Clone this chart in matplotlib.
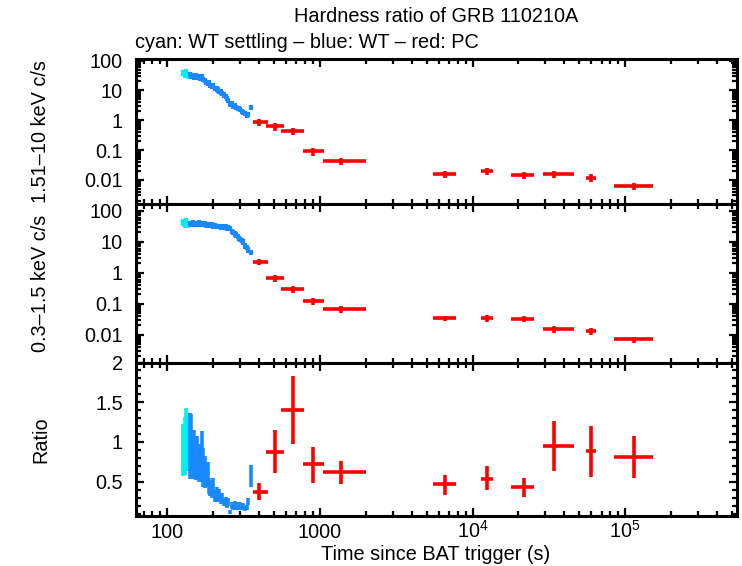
import matplotlib
matplotlib.use("Agg")
import matplotlib.pyplot as plt
from matplotlib.ticker import FixedLocator, NullFormatter, LogLocator, MultipleLocator
import numpy as np

plt.rcParams['font.family'] = ['Liberation Sans', 'DejaVu Sans']

# ---------------- data ----------------
# WT settling (cyan)
cy_t = [127, 130, 133, 136]
cy_hard = [40, 35, 42, 33]
cy_soft = [42, 38, 45, 36]
cy_ratio = [0.90, 0.95, 1.05, 1.00]
cy_ratio_err = [0.33, 0.36, 0.38, 0.36]

# WT (blue)
wt_t = [141, 143.5, 147, 150, 153.5, 157, 161, 164, 168, 172, 176, 180, 184, 188, 192,
        197, 201, 206, 211, 215, 220, 225, 230, 236, 241, 247, 252, 258, 264, 270, 276,
        283, 289, 295, 302, 309, 316, 323, 331, 338, 354]
wt_hard = [36, 30, 33, 28, 31, 27, 30, 26, 29, 24, 22, 19, 17, 18, 15, 14, 15, 12, 11.5,
           10.5, 9.5, 9, 8, 7.2, 6.5, 5.6, 4.6, 3.4, 3.6, 3.0, 3.2, 2.8, 2.5, 2.6, 2.3,
           2.0, 1.9, 1.7, 1.5, 1.6, 2.8]
wt_soft = [40, 36, 42, 38, 40, 37, 41, 36, 39, 37, 38, 35, 37, 36, 34, 35, 33, 34, 32, 31,
           32, 30, 31, 29, 30, 28, 29, 27, 22, 20, 18, 17, 15, 13, 12, 11, 10, 7.5, 6.5,
           5.5, 4.5]
wt_ratio = [0.95, 1.00, 0.78, 0.85, 0.72, 0.80, 0.70, 0.76, 0.82, 0.68, 0.62, 0.55, 0.60,
            0.45, 0.42, 0.38, 0.45, 0.32, 0.36, 0.30, 0.34, 0.28, 0.30, 0.24, 0.26, 0.22,
            0.24, 0.12, 0.20, 0.18, 0.22, 0.17, 0.20, 0.18, 0.21, 0.17, 0.19, 0.16, 0.18,
            0.25, 0.57]
wt_ratio_err = [0.42, 0.35, 0.25, 0.30, 0.20, 0.28, 0.20, 0.22, 0.32, 0.25, 0.20, 0.12,
                0.15, 0.10, 0.10, 0.08, 0.10, 0.07, 0.08, 0.06, 0.07, 0.06, 0.06, 0.05,
                0.05, 0.05, 0.05, 0.03, 0.04, 0.03, 0.04, 0.03, 0.04, 0.04, 0.04, 0.03,
                0.04, 0.03, 0.03, 0.04, 0.14]

# PC (red)
pc_t = [399, 508, 670, 904, 1371, 6590, 12360, 21700, 34360, 59700, 115000]
pc_tlo = [363, 443, 556, 771, 1043, 5510, 11400, 17900, 28800, 55600, 84000]
pc_thi = [455, 579, 789, 1067, 2000, 7850, 13650, 25400, 46500, 64600, 152000]
pc_hard = [0.88, 0.63, 0.43, 0.093, 0.042, 0.0158, 0.020, 0.0147, 0.0158, 0.0119, 0.0063]
pc_hard_err = [0.25, 0.18, 0.12, 0.028, 0.011, 0.0045, 0.0055, 0.004, 0.0045, 0.0035, 0.0018]
pc_soft = [2.26, 0.66, 0.29, 0.122, 0.067, 0.034, 0.034, 0.032, 0.0149, 0.0132, 0.0071]
pc_soft_err = [0.55, 0.17, 0.075, 0.03, 0.015, 0.007, 0.008, 0.007, 0.0035, 0.0032, 0.0016]
pc_ratio = [0.37, 0.88, 1.40, 0.72, 0.62, 0.47, 0.54, 0.43, 0.95, 0.89, 0.81]
pc_ratio_lo = [0.27, 0.61, 0.975, 0.49, 0.47, 0.333, 0.396, 0.31, 0.636, 0.565, 0.544]
pc_ratio_hi = [0.49, 1.156, 1.83, 0.94, 0.755, 0.586, 0.70, 0.544, 1.26, 1.206, 1.08]

log_ticks = [0.01, 0.1, 1, 10, 100]
log_labels = ['0.01', '0.1', '1', '10', '100']
ratio_ticks = [0.5, 1, 1.5, 2]
ratio_labels = ['0.5', '1', '1.5', '2']
x_ticks = [100, 1000, 1e4, 1e5]
x_labels = ['100', '1000', r'$\mathregular{10^4}$', r'$\mathregular{10^5}$']

CYAN = '#00F0F0'
BLUE = '#1A88FF'
RED = '#FF0000'
FS = 14.3

W, H = 742, 566
fig = plt.figure(figsize=(W / 100, H / 100), dpi=100)

L = 135.5 / W
Wd = (737 - 135.5) / W
def pos(ytop, ybot):
    return [L, 1 - ybot / H, Wd, (ybot - ytop) / H]

ax1 = fig.add_axes(pos(58.5, 204))
ax2 = fig.add_axes(pos(204, 362.5))
ax3 = fig.add_axes(pos(362.5, 516))

xmin, xmax = 62, 5.4e5

def style(ax):
    ax.set_xscale('log')
    ax.set_xlim(xmin, xmax)
    for s in ax.spines.values():
        s.set_linewidth(2.2)
    ax.tick_params(which='both', direction='in', top=True, right=True,
                   labelsize=FS, width=1.6, pad=7)
    ax.tick_params(which='major', length=6)
    ax.tick_params(which='minor', length=3.5)
    ax.xaxis.set_major_locator(FixedLocator(x_ticks))
    ax.xaxis.set_minor_locator(LogLocator(base=10, subs=np.arange(2, 10), numticks=20))
    ax.xaxis.set_minor_formatter(NullFormatter())

eb = dict(fmt='none', capsize=0)

for ax, cyv, wtv, pcv, pce, ylim in [
        (ax1, cy_hard, wt_hard, pc_hard, pc_hard_err, (0.00155, 118)),
        (ax2, cy_soft, wt_soft, pc_soft, pc_soft_err, (0.00127, 164))]:
    style(ax)
    ax.set_yscale('log')
    ax.set_ylim(*ylim)
    cyv_a = np.array(cyv)
    wtv_a = np.array(wtv)
    ax.errorbar(cy_t, cyv, xerr=np.array(cy_t) * 0.012, yerr=cyv_a * 0.25,
                ecolor=CYAN, elinewidth=3.0, **eb)
    ax.errorbar(wt_t, wtv, xerr=np.array(wt_t) * 0.015, yerr=wtv_a * 0.2,
                ecolor=BLUE, elinewidth=3.0, **eb)
    t = np.array(pc_t)
    ax.errorbar(pc_t, pcv, xerr=[t - np.array(pc_tlo), np.array(pc_thi) - t],
                yerr=pce, ecolor=RED, elinewidth=2.6, **eb)
    ax.yaxis.set_major_locator(FixedLocator(log_ticks))
    ax.set_yticklabels(log_labels)
    ax.yaxis.set_minor_locator(LogLocator(base=10, subs=np.arange(2, 10), numticks=20))
    ax.yaxis.set_minor_formatter(NullFormatter())
    ax.set_xticklabels([])

style(ax3)
ax3.set_ylim(0.069, 2.0)
ax3.errorbar(cy_t, cy_ratio, xerr=np.array(cy_t) * 0.008, yerr=cy_ratio_err,
             ecolor=CYAN, elinewidth=2.6, **eb)
ax3.errorbar(wt_t, wt_ratio, xerr=np.array(wt_t) * 0.015, yerr=wt_ratio_err,
             ecolor=BLUE, elinewidth=2.6, **eb)
t = np.array(pc_t)
r = np.array(pc_ratio)
ax3.errorbar(pc_t, pc_ratio, xerr=[t - np.array(pc_tlo), np.array(pc_thi) - t],
             yerr=[r - np.array(pc_ratio_lo), np.array(pc_ratio_hi) - r],
             ecolor=RED, elinewidth=2.6, **eb)
ax3.yaxis.set_major_locator(FixedLocator(ratio_ticks))
ax3.set_yticklabels(ratio_labels)
ax3.yaxis.set_minor_locator(MultipleLocator(0.1))
ax3.set_xticklabels(x_labels)
ax3.tick_params(axis='x', pad=15.5)
for lab in ax3.get_xticklabels():
    lab.set_verticalalignment('baseline')

for ax in (ax1, ax2, ax3):
    ax.tick_params(axis='y', pad=9)

ax1.set_ylabel('1.51–10 keV c/s', fontsize=FS)
ax2.set_ylabel('0.3–1.5 keV c/s', fontsize=FS)
ax3.set_ylabel('Ratio', fontsize=FS)
for ax in (ax1, ax2, ax3):
    ax.yaxis.set_label_coords((50 - 135.5) / (737 - 135.5), 0.5)

fig.text(436 / W, 1 - 554 / H, 'Time since BAT trigger (s)', ha='center', va='center',
         fontsize=FS)
fig.text(436 / W, 1 - 17 / H, 'Hardness ratio of GRB 110210A', ha='center', va='center',
         fontsize=FS)
fig.text(135 / W, 1 - 42 / H, 'cyan: WT settling – blue: WT – red: PC', ha='left',
         va='center', fontsize=FS)

fig.savefig('out.png', dpi=100)
